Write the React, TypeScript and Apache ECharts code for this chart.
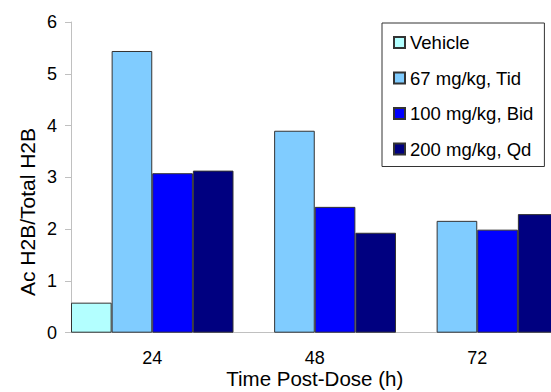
import React, { useEffect, useRef } from "react";
import * as echarts from "echarts";

const categories = ["24", "48", "72"];
const seriesNames = ["Vehicle", "67 mg/kg, Tid", "100 mg/kg, Bid", "200 mg/kg, Qd"];
const vehicle = [0.58, null, null];
const tid67 = [5.44, 3.9, 2.16];
const bid100 = [3.08, 2.43, 1.99];
const qd200 = [3.13, 1.93, 2.29];
const yTicks = { min: 0, max: 6, interval: 1 };
const colors = ["#b3ffff", "#80ccff", "#0000ff", "#000080"];

export default function App() {
  const ref = useRef<HTMLDivElement>(null);
  useEffect(() => {
    if (!ref.current) return;
    const chart = echarts.init(ref.current, null, { renderer: "svg" });
    const data = [vehicle, tid67, bid100, qd200];
    const font = "Arial, 'Liberation Sans', sans-serif";
    chart.setOption({
      animation: false,
      textStyle: { fontFamily: font, color: "#000" },
      grid: {
        left: 71,
        width: 487.5,
        top: 22,
        height: 310.7,
        containLabel: false,
        outerBoundsMode: "none",
      },
      legend: {
        orient: "vertical",
        left: 382,
        top: 23,
        padding: [10, 11, 8, 11],
        itemWidth: 11,
        itemHeight: 11,
        itemGap: 16.5,
        icon: "rect",
        backgroundColor: "#fff",
        borderColor: "#333",
        borderWidth: 1,
        borderRadius: 0,
        textStyle: { fontFamily: font, fontSize: 18.5, color: "#000" },
        data: seriesNames,
      },
      xAxis: {
        type: "category",
        data: categories,
        name: "Time Post-Dose (h)",
        nameLocation: "middle",
        nameGap: 35,
        nameMoveOverlap: false,
        nameTextStyle: { fontFamily: font, fontSize: 20.5, color: "#000", lineHeight: 22 },
        axisLine: { lineStyle: { color: "#c0c0c0", width: 1 } },
        axisTick: { length: 7, lineStyle: { color: "#c0c0c0" } },
        axisLabel: { fontFamily: font, fontSize: 18, color: "#000", margin: 16 },
      },
      yAxis: {
        type: "value",
        min: yTicks.min,
        max: yTicks.max,
        interval: yTicks.interval,
        splitLine: { show: false },
        axisLine: { show: true, lineStyle: { color: "#c0c0c0", width: 1 } },
        axisTick: { show: true, length: 6, lineStyle: { color: "#c0c0c0" } },
        axisLabel: { fontFamily: font, fontSize: 18, color: "#000", margin: 14 },
      },
      graphic: [
        {
          type: "text",
          x: 27,
          y: 212,
          rotation: Math.PI / 2,
          style: {
            text: "Ac H2B/Total H2B",
            fontFamily: font,
            fontSize: 21,
            fill: "#000",
            align: "center",
            verticalAlign: "middle",
          },
        },
      ],
      series: seriesNames.map((name, i) => ({
        name,
        type: "bar",
        data: data[i],
        barGap: "0%",
        barCategoryGap: "0%",
        itemStyle: { color: colors[i], borderColor: "#333", borderWidth: 1 },
      })),
    });
    return () => chart.dispose();
  }, []);
  return (
    <div
      style={{ position: "absolute", left: 0, top: 0, width: 551, height: 392, overflow: "hidden", background: "#fff" }}
    >
      <div ref={ref} style={{ width: 562, height: 392 }} />
    </div>
  );
}
